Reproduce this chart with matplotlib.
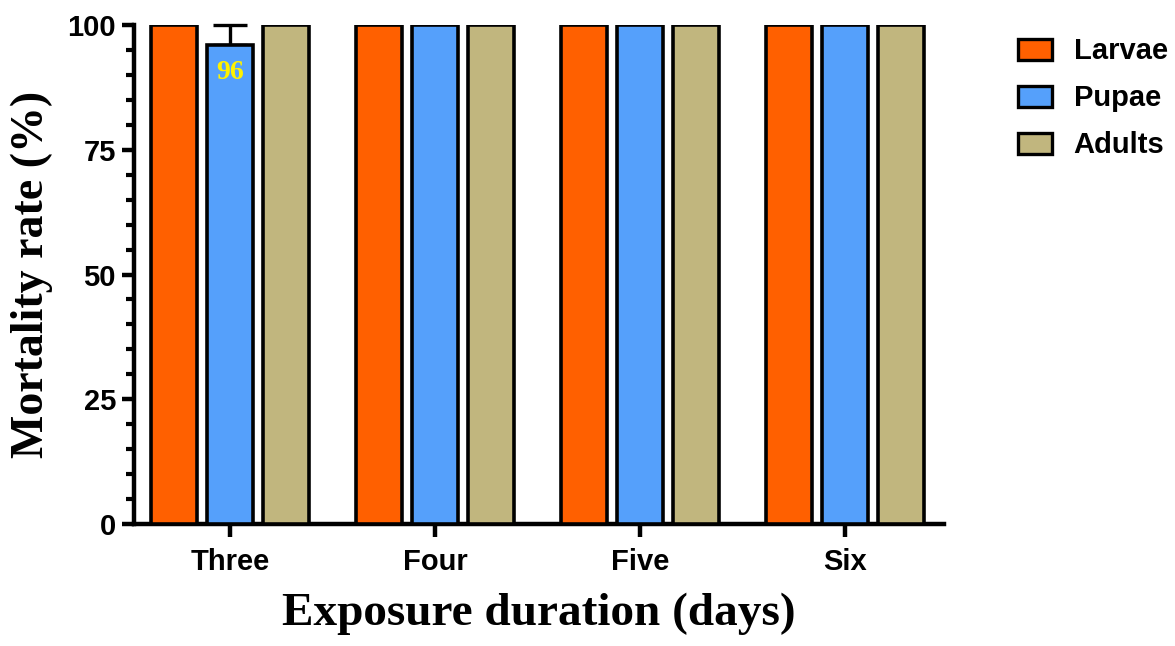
import matplotlib.pyplot as plt
import numpy as np
from matplotlib.ticker import MultipleLocator

# data
days = ["Three", "Four", "Five", "Six"]
larvae = [100, 100, 100, 100]
pupae = [96, 100, 100, 100]
adults = [100, 100, 100, 100]
pupae_err = [4, 0, 0, 0]

colors = {"Larvae": "#FF6000", "Pupae": "#55A0FB", "Adults": "#C1B67E"}

fig = plt.figure(figsize=(11.75, 6.46), dpi=100)
ax = fig.add_axes([0.114, 0.189, 0.689, 0.772])

x = np.arange(len(days))
pitch = 0.273
width = 0.224
series = [("Larvae", larvae, None), ("Pupae", pupae, pupae_err), ("Adults", adults, None)]
for i, (name, vals, err) in enumerate(series):
    pos = x + (i - 1) * pitch
    ax.bar(pos, vals, width, color=colors[name], edgecolor="black", linewidth=2.6,
           label=name, zorder=3)
    if err is not None:
        for p, v, e in zip(pos, vals, err):
            if e > 0:
                ax.errorbar(p, v, yerr=[[0], [e]], fmt="none", ecolor="black",
                            elinewidth=2.4, capsize=12, capthick=2.4, zorder=2,
                            clip_on=False)

# value label on the pupae bar of day three
ax.text(x[0], 90.5, str(pupae[0]), ha="center", va="center", color="#FFF200",
        fontsize=20, fontweight="bold", family="Liberation Serif", zorder=4)

ax.set_xlim(-0.47, 3.48)
ax.set_ylim(0, 100)
ax.yaxis.set_major_locator(MultipleLocator(25))
ax.yaxis.set_minor_locator(MultipleLocator(5))
ax.set_xticks(x)
ax.set_xticklabels(days)

for s in ["top", "right"]:
    ax.spines[s].set_visible(False)
for s in ["left", "bottom"]:
    ax.spines[s].set_linewidth(3.2)

ax.tick_params(axis="both", which="major", width=3.2, length=9, labelsize=21, pad=4)
ax.tick_params(axis="y", which="minor", width=3, length=6)
for lab in ax.get_xticklabels() + ax.get_yticklabels():
    lab.set_fontweight("bold")
    lab.set_family("Liberation Sans")
ax.tick_params(axis="x", pad=8)

ax.set_ylabel("Mortality rate (%)", fontsize=33, fontweight="bold",
              family="Liberation Serif", labelpad=10)
ax.set_xlabel("Exposure duration (days)", fontsize=34, fontweight="bold",
              family="Liberation Serif", labelpad=12)

leg = ax.legend(loc="upper left", bbox_to_anchor=(1.06, 1.028), frameon=False,
                prop={"family": "Liberation Sans", "weight": "bold", "size": 21},
                handlelength=1.15, handleheight=0.75, labelspacing=0.65, handletextpad=0.75)
for h in leg.legend_handles:
    h.set_linewidth(2.4)

fig.savefig("out.png", dpi=100)
